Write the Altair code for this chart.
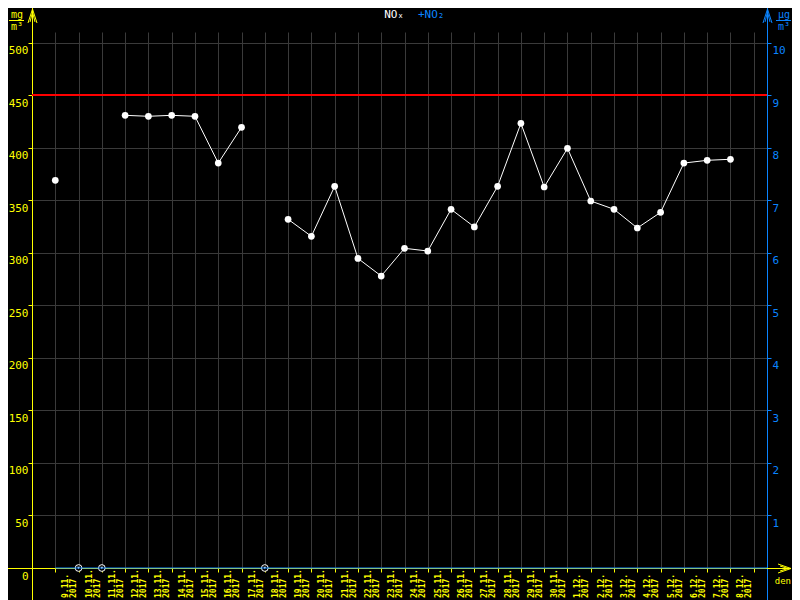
import altair as alt
import pandas as pd

# ---- data ----
dates = ["9.11.", "10.11.", "11.11.", "12.11.", "13.11.", "14.11.", "15.11.", "16.11.",
         "17.11.", "18.11.", "19.11.", "20.11.", "21.11.", "22.11.", "23.11.", "24.11.",
         "25.11.", "26.11.", "27.11.", "28.11.", "29.11.", "30.11.", "1.12.", "2.12.",
         "3.12.", "4.12.", "5.12.", "6.12.", "7.12.", "8.12."]
year = "2017"
nox = [368.9, None, None, 430.7, 429.8, 430.7, 429.8, 385.3, 419.3, None,
       331.8, 315.6, 363.2, 294.6, 277.8, 304.2, 301.6, 341.3, 324.5, 363.2,
       423.1, 362.5, 399.3, 349.2, 341.3, 323.5, 338.4, 385.3, 387.9, 388.9]
limit = 450
left_ticks = list(range(0, 501, 50))
right_ticks = list(range(1, 11))

# ---- table ----
rows = []
seg = 0
for i, (d, v) in enumerate(zip(dates, nox)):
    if v is None:
        seg += 1
    rows.append(dict(idx=i, label=f"{d}\n{year}", nox=v, seg=seg, missing=v is None))
df = pd.DataFrame(rows)
dummy = pd.DataFrame({"a": [0]})

YEL = "#ffff00"
BLUE = "#0a84ff"
GRID = "#3a3a3a"
W, H = 735, 536

xs = alt.Scale(domain=[-1, len(dates) + 0.57], nice=False, zero=False)
ys = alt.Scale(domain=[0, 510], nice=False, zero=True)
ys2 = alt.Scale(domain=[0, 10.2], nice=False, zero=True)

xaxis = alt.Axis(values=list(range(len(dates) + 1)), labels=False, domain=False,
                 ticks=True, tickColor=YEL, tickSize=4, grid=True, gridColor=GRID,
                 title=None)
yaxis = alt.Axis(values=left_ticks, domain=False, ticks=True, tickColor=YEL, tickSize=4,
                 grid=True, gridColor=GRID, labelColor=YEL, labelFont="DejaVu Sans Mono",
                 labelFontSize=11, labelBaseline="top", labelOffset=2, labelPadding=0,
                 labelFlush=False, labelOverlap=False, title=None)
yaxis2 = alt.Axis(orient="right", values=right_ticks, domain=False, ticks=True,
                  tickColor=BLUE, tickSize=4, grid=False, labelColor=BLUE,
                  labelFont="DejaVu Sans Mono", labelFontSize=11, labelBaseline="top",
                  labelOffset=2, labelPadding=1, labelFlush=False, labelOverlap=False, title=None)


def X(f):
    return alt.X(f, type="quantitative", scale=xs, axis=xaxis)


def Y(f):
    return alt.Y(f, type="quantitative", scale=ys, axis=yaxis)


def seg_rule(x1, y1, x2, y2, color, w=1):
    return alt.Chart(dummy).mark_rule(color=color, strokeWidth=w).encode(
        x=alt.value(x1), y=alt.value(y1), x2=alt.value(x2), y2=alt.value(y2))


def txt(x, y, s, color, size, align="center", baseline="middle", font="DejaVu Sans Mono", weight="normal"):
    return alt.Chart(dummy).mark_text(color=color, fontSize=size, align=align, baseline=baseline,
                                      font=font, fontWeight=weight).encode(
        x=alt.value(x), y=alt.value(y), text=alt.value(s))


base = alt.Chart(df)
valid = base.transform_filter("isValid(datum.nox)")

line = valid.mark_line(color="white", strokeWidth=1).encode(x=X("idx"), y=Y("nox"), detail="seg:N")
pts = valid.mark_circle(color="white", size=45, opacity=1).encode(x=X("idx"), y=Y("nox"))

limit_rule = alt.Chart(pd.DataFrame({"limit": [limit]})).mark_rule(
    color="#ff0000", strokeWidth=2).encode(y=Y("limit"))

miss = base.transform_filter("datum.missing").transform_calculate(zero="0")
miss_c = miss.mark_point(shape="circle", filled=True, fill="black", stroke="white",
                         strokeWidth=1, size=45, opacity=1).encode(x=X("idx"), y=Y("zero"))
miss_t = miss.mark_point(shape="triangle-down", filled=True, color="white", size=8,
                         opacity=1).encode(x=X("idx"), y=Y("zero"))

labels = base.transform_calculate(lx="datum.idx + 0.3").mark_text(
    color=YEL, font="DejaVu Sans Mono", fontWeight="bold", fontSize=8, angle=270,
    align="left", baseline="top", lineBreak="\n", lineHeight=8).encode(
    x=X("lx"), y=alt.value(566), text="label:N")

decor = [
    seg_rule(0.5, -24, 0.5, 568, YEL),                 # left axis line
    seg_rule(W + 0.5, -24, W + 0.5, 568, BLUE),       # right axis line
    seg_rule(-24, H + 0.5, 759, H + 0.5, YEL),        # x axis line
    # arrows
    seg_rule(0.5, -23, -4, -9, YEL), seg_rule(0.5, -23, 5, -9, YEL),
    seg_rule(0.5, -20, -2, -10, YEL), seg_rule(0.5, -20, 3, -10, YEL),
    seg_rule(W + 0.5, -23, W - 4, -9, BLUE), seg_rule(W + 0.5, -23, W + 5, -9, BLUE),
    seg_rule(W + 0.5, -20, W - 2, -10, BLUE), seg_rule(W + 0.5, -20, W + 3, -10, BLUE),
    seg_rule(759, H + 0.5, 746, H - 4, YEL), seg_rule(759, H + 0.5, 746, H + 5, YEL),
    seg_rule(756, H + 0.5, 748, H - 2, YEL), seg_rule(756, H + 0.5, 748, H + 3, YEL),
    # units
    txt(-15, -14, "mg", YEL, 10, baseline="alphabetic"),
    seg_rule(-23, -11.5, -8, -11.5, YEL),
    txt(-15, -2, "m³", YEL, 10, baseline="alphabetic"),
    txt(752, -14, "µg", BLUE, 10, baseline="alphabetic"),
    seg_rule(744, -11.5, 759, -11.5, BLUE),
    txt(752, -2, "m³", BLUE, 10, baseline="alphabetic"),
    txt(759, 549, "den", YEL, 9, align="right"),
    # title
    txt(372, -17, "NOₓ", "white", 11, align="right"),
    txt(386, -17, "+NO₂", BLUE, 11, align="left"),
]

inner = alt.layer(*decor, limit_rule, line, pts, miss_c, miss_t, labels)

right = alt.Chart(dummy).mark_rule(color=BLUE, strokeWidth=1).encode(
    x=alt.XDatum(0, type="quantitative", scale=xs, axis=xaxis),
    x2=alt.value(W),
    y=alt.YDatum(0, type="quantitative", scale=ys2, axis=yaxis2),
)

chart = alt.layer(inner, right).resolve_scale(y="independent").properties(
    width=W, height=H,
    padding={"left": 24, "top": 24, "right": 25, "bottom": 32},
    autosize=alt.AutoSizeParams(type="none"),
    background="black",
).configure_view(stroke=None)

chart.save("out.html", embed_options={"renderer": "svg", "actions": False})
